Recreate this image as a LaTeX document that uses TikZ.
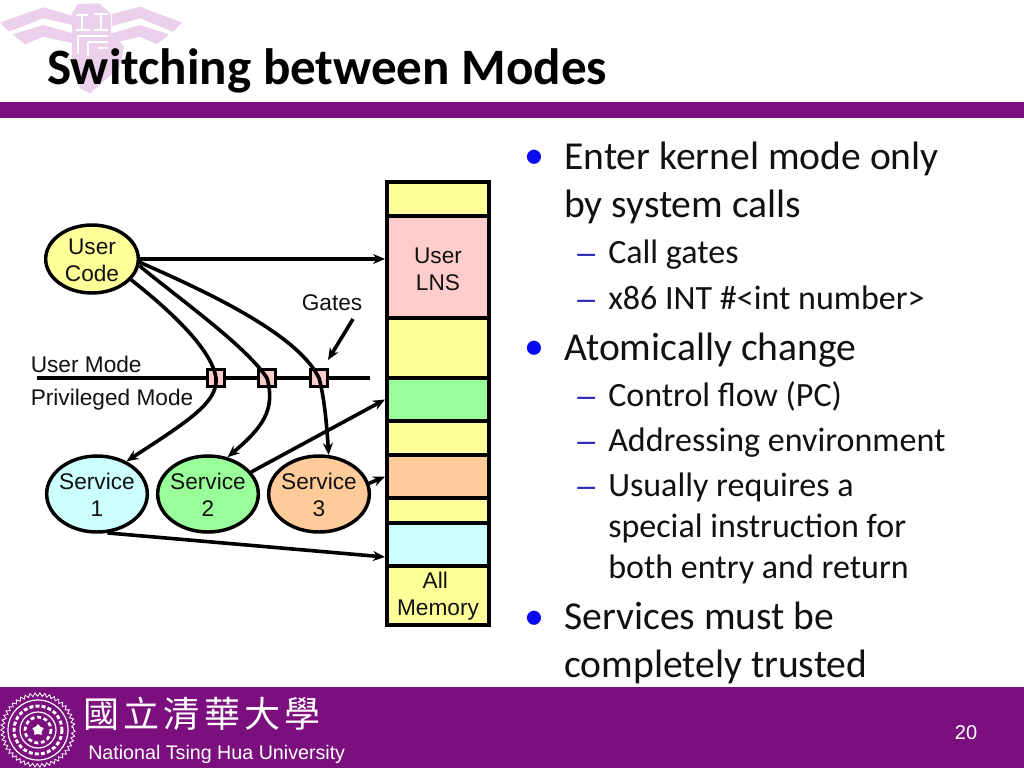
\documentclass[tikz,border=0pt]{standalone}
\usepackage{fontspec}
\setmainfont{Carlito}
\newfontfamily\arialf{Liberation Sans}
\newfontfamily\cjkf{Noto Sans CJK TC}
\usetikzlibrary{shapes.geometric,arrows.meta,decorations.pathmorphing}
\definecolor{ntpurple}{HTML}{7B0F7E}
\definecolor{wingc}{HTML}{EBD0EC}
\definecolor{bulletc}{HTML}{0A0AF0}
\definecolor{dashc}{HTML}{2A2AB8}
\definecolor{bodyc}{HTML}{111111}
\definecolor{cyell}{HTML}{FFFF99}
\definecolor{cpink}{HTML}{FFCCCC}
\definecolor{cgreen}{HTML}{99FF99}
\definecolor{corange}{HTML}{FFCC99}
\definecolor{ccyan}{HTML}{CCFFFF}
\newcommand\lift[1]{\rule{0pt}{#1pt}}
\tikzset{
  x=0.75pt,y=-0.75pt,
  lab/.style={font=\arialf\fontsize{17pt}{20.25pt}\selectfont,align=center,inner sep=0pt,text=bodyc},
  ell/.style={ellipse,draw=black,line width=2.6pt,lab,inner xsep=-4pt,inner ysep=-3pt},
  usere/.style={ell,minimum width=69.5pt,minimum height=51pt},
  svc/.style={ell,minimum width=75.5pt,minimum height=57pt},
  seg/.style={rectangle,draw=black,line width=3pt,inner sep=0pt,minimum width=76.5pt,lab},
  gate/.style={rectangle,draw=black,line width=2.6pt,fill=cpink,inner sep=0pt,minimum size=13pt},
  conn/.style={line width=2.7pt,draw=black,-{Stealth[length=9pt,width=7.5pt]}},
  head/.style={anchor=base west,inner sep=0pt,text=bodyc,font=\fontsize{29.7pt}{36pt}\selectfont},
  sub/.style={anchor=base west,inner sep=0pt,text=bodyc,font=\fontsize{25.5pt}{30pt}\selectfont},
  bul/.style={anchor=base west,inner sep=0pt,text=bulletc,font=\fontsize{30pt}{36pt}\selectfont},
  das/.style={anchor=base west,inner sep=0pt,text=dashc,font=\arialf\fontsize{24pt}{30pt}\selectfont},
  wing/.style={fill=wingc,draw=none},
  glyph/.style={draw=white,line width=2pt}
}
\begin{document}
\begin{tikzpicture}
\useasboundingbox (0,0) rectangle (1024,768);
\fill[white] (0,0) rectangle (1024,768);
% emblem
\fill[wing] (0,22.7)--(43,7.3)--(73,16)--(73,25)--(43,18.3)--(9,31.7)--cycle;
\fill[wing] (12.7,34.3)--(43,25)--(73,33.3)--(73,43.3)--(43,36.7)--(25,44.3)--cycle;
\fill[wing] (112,14)--(140,6.7)--(182,22.7)--(173,31.7)--(140,18.3)--(112,26)--cycle;
\fill[wing] (112,33.3)--(140,25)--(169,34.3)--(157,44.3)--(140,36.7)--(112,43.3)--cycle;
\fill[wing] (72,13.3)--(78,4)--(99,3.3)--(111,14)--(111,33)--(124,46.7)--(120,66.7)--(90,93.3)--(80,88.3)--(72,60)--cycle;
\draw[glyph] (76,15)--(88,15) (82,15)--(82,30) (76,30)--(90,30) (94,14)--(108,14) (101,14)--(101,30) (94,30)--(108,30) (78,36)--(108,36) (78,36)--(78,54) (88,42)--(108,42) (88,42)--(88,56) (98,48)--(108,48);
% title and rule
\node[anchor=base west,inner sep=0pt,text=black,font=\bfseries\fontsize{38.3pt}{44pt}\selectfont] (title) at (47,84) {Switching between Modes};
\fill[ntpurple] (0,102) rectangle (1024,118);
% footer
\fill[ntpurple] (0,687) rectangle (1024,768);
\draw[white,line width=.6pt,decorate,decoration={zigzag,segment length=3.6pt,amplitude=1.3pt}] (38,730) circle [radius=35.5];
\draw[white,line width=.9pt] (38,730) circle [radius=30];
\draw[white,line width=.9pt] (38,730) circle [radius=18];
\draw[white,line width=2.2pt,dash pattern=on 3pt off 1.6pt] (38,730) circle [radius=24];
\draw[white,line width=2pt,dash pattern=on 3pt off 2pt] (38,730) circle [radius=13];
\node[star,star points=5,fill=white,inner sep=0pt,minimum size=9pt] (sealstar) at (38,730) {};
\node[anchor=base west,inner sep=0pt,text=white,font=\cjkf\fontsize{27pt}{30pt}\selectfont] (cn) at (83,727) {國\hspace{3.2pt}立\hspace{3.2pt}清\hspace{3.2pt}華\hspace{3.2pt}大\hspace{3.2pt}學};
\node[anchor=base west,inner sep=0pt,text=white,font=\arialf\fontsize{14.75pt}{18pt}\selectfont] (ntu) at (88,759) {National Tsing Hua University};
\node[inner sep=0pt,text=white,font=\arialf\fontsize{15pt}{18pt}\selectfont] (pg) at (966,733) {20};
% memory column
\node[seg,fill=cyell,minimum height=25.5pt] (m1) at (438,199) {};
\node[seg,fill=cpink,minimum height=76.5pt] (lns) at (438,267) {\lift{15}User\\LNS};
\node[seg,fill=cyell,minimum height=45pt] (m3) at (438,348) {};
\node[seg,fill=cgreen,minimum height=32.25pt] (mg) at (438,399.5) {};
\node[seg,fill=cyell,minimum height=25.5pt] (m5) at (438,438) {};
\node[seg,fill=corange,minimum height=32.25pt] (mo) at (438,476.5) {};
\node[seg,fill=cyell,minimum height=18.75pt] (m7) at (438,510.5) {};
\node[seg,fill=ccyan,minimum height=32.25pt] (mc) at (438,544.5) {};
\node[seg,fill=cyell,minimum height=44.25pt] (all) at (438,595.5) {\lift{14}All\kern4pt\\Memory};
% mode line
\coordinate (ml) at (37,378);
\coordinate (mr) at (370,378);
\draw[black,line width=2.6pt] (ml) -- (mr);
\node[lab,anchor=west] (um) at (30.5,364) {User Mode};
\node[lab,anchor=west] (pm) at (30.5,400) {Privileged Mode};
\node[lab] (gt) at (332,303) {Gates};
% gates
\node[gate] (g1) at (216,378) {};
\node[gate] (g2) at (267,378) {};
\node[gate] (g3) at (319,378) {};
% ellipses
\node[usere,fill=cyell] (uc) at (92,259) {\lift{14}User\\Code};
\node[svc,fill=ccyan] (s1) at (97,494) {\lift{14}Service\\1};
\node[svc,fill=cgreen] (s2) at (208,494) {\lift{14}Service\\2};
\node[svc,fill=corange] (s3) at (319,494) {\lift{14}Service\\3};
% connectors
\coordinate (cin) at (385,557);
\draw[conn] (uc.east) -- (uc.east -| lns.west);
\draw[conn] (uc.-28) .. controls (172,312) and (212,350) .. (g1.center) .. controls (218,402) and (190,420) .. (s1.48);
\draw[conn] (uc.-8) .. controls (178,298) and (245,345) .. (g2.center) .. controls (276,410) and (262,428) .. (s2.62);
\draw[conn] (uc.-4) .. controls (212,294) and (298,335) .. (g3.center) .. controls (325,400) and (327,430) .. (s3.76);
\draw[conn] (s2.27) -- (mg.west);
\draw[conn] (s3.12) -- (mo.west);
\draw[conn] (s1.-75) -- (cin);
\coordinate (gs) at (353,319);
\coordinate (ge) at (328,360);
\draw[conn] (gs) -- (ge);
% bullets
\node[bul] (b1) at (524,168) {•};
\node[head] (t1) at (564,169) {Enter kernel mode only};
\node[head] (t1b) at (564,217) {by system calls};
\node[das] (d1) at (577,263) {–};
\node[sub] (t2) at (608,263) {Call gates};
\node[das] (d2) at (577,309) {–};
\node[sub] (t3) at (608,309) {x86 INT \#<int number>};
\node[bul] (b2) at (524,359) {•};
\node[head] (t4) at (564,360) {Atomically change};
\node[das] (d3) at (577,406) {–};
\node[sub] (t5) at (608,406) {Control flow (PC)};
\node[das] (d4) at (577,451) {–};
\node[sub] (t6) at (608,451) {Addressing environment};
\node[das] (d5) at (577,496) {–};
\node[sub] (t7) at (608,496) {Usually requires a};
\node[sub] (t7b) at (608,537) {special instruction for};
\node[sub] (t7c) at (608,578) {both entry and return};
\node[bul] (b3) at (524,629) {•};
\node[head] (t8) at (564,629.5) {Services must be};
\node[head] (t8b) at (564,677) {completely trusted};
\end{tikzpicture}
\end{document}
